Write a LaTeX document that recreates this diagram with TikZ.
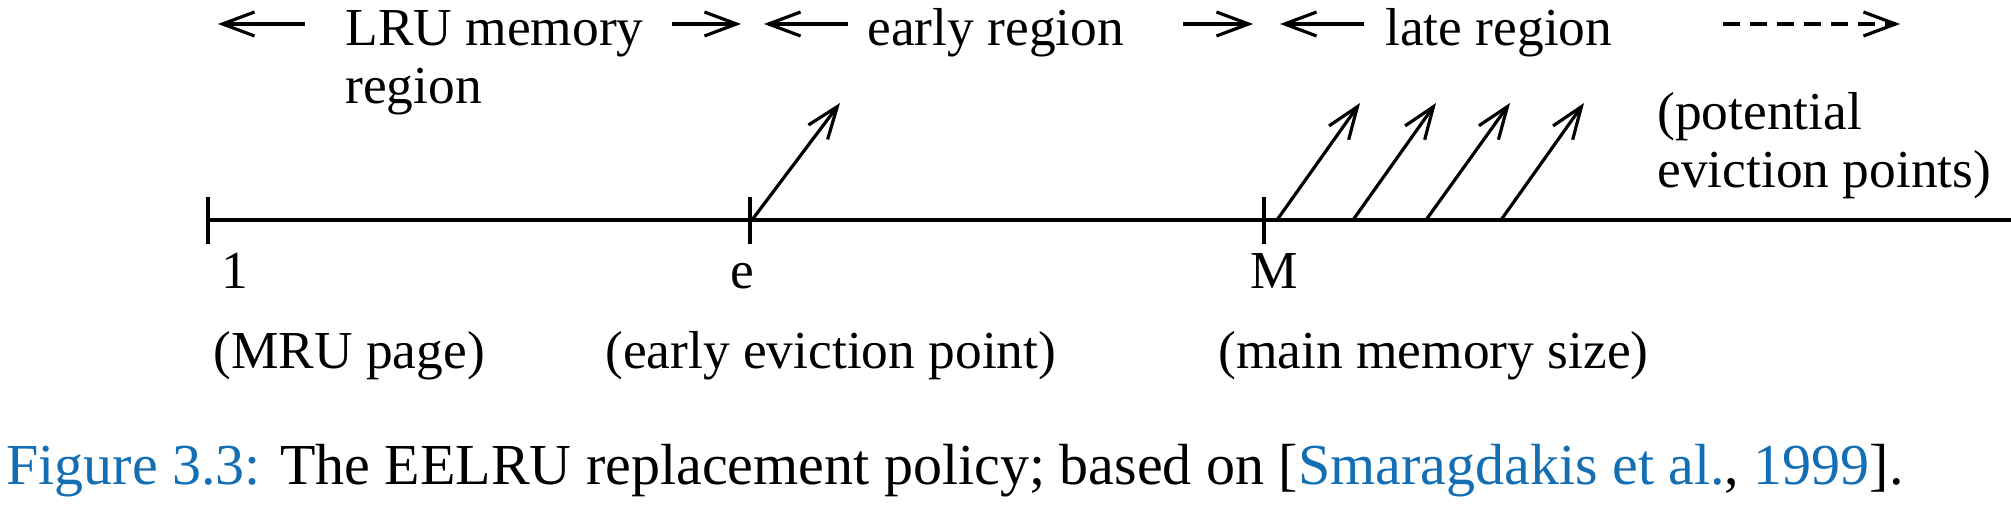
\documentclass[tikz,border=0pt]{standalone}
\usepackage{fontspec}
\setmainfont{Liberation Serif}
\usetikzlibrary{arrows.meta}
\definecolor{capblue}{RGB}{20,110,180}
\begin{document}
\begin{tikzpicture}[x=0.5pt,y=-0.5pt,
  lbl/.style={anchor=base west,inner sep=0pt,font=\fontsize{26.7pt}{29pt}\selectfont},
  axisline/.style={line width=1.9pt},
  regarrow/.style={line width=1.6pt,-{Straight Barb[length=16pt,width=12pt]}},
  ptrarrow/.style={line width=1.6pt,-{Straight Barb[length=16pt,width=12pt]}},
  capt/.style={anchor=base west,inner sep=0pt,font=\fontsize{29pt}{31pt}\selectfont}]
\useasboundingbox (0,0) rectangle (2011,512);

% main axis
\coordinate (A0) at (208,220);
\coordinate (A1) at (2011,220);
\draw[axisline] (A0) -- (A1);
% ticks
\coordinate (T1a) at (208,197); \coordinate (T1b) at (208,244);
\coordinate (T2a) at (750,197); \coordinate (T2b) at (750,244);
\coordinate (T3a) at (1264,197); \coordinate (T3b) at (1264,244);
\draw[axisline] (T1a) -- (T1b);
\draw[axisline] (T2a) -- (T2b);
\draw[axisline] (T3a) -- (T3b);

% eviction pointers
\coordinate (E0) at (752,220);  \coordinate (E1) at (840,103);
\coordinate (P0) at (1277,220); \coordinate (P1) at (1360,103);
\coordinate (Q0) at (1353,220); \coordinate (Q1) at (1436,103);
\coordinate (R0) at (1426,220); \coordinate (R1) at (1510,103);
\coordinate (S0) at (1501,220); \coordinate (S1) at (1584,103);
\draw[ptrarrow] (E0) -- (E1);
\draw[ptrarrow] (P0) -- (P1);
\draw[ptrarrow] (Q0) -- (Q1);
\draw[ptrarrow] (R0) -- (R1);
\draw[ptrarrow] (S0) -- (S1);

% region labels
\node[lbl] (lru1) at (345,46) {LRU memory};
\node[lbl] (lru2) at (345,104) {region};
\node[lbl] (early) at (867,46) {early region};
\node[lbl] (late) at (1385,46) {late region};
\node[lbl] (pot1) at (1657,130) {(potential};
\node[lbl] (pot2) at (1657,188) {eviction points)};

% region arrows
\coordinate (a1s) at (305,24);  \coordinate (a1e) at (218,24);
\coordinate (a2s) at (672,24);  \coordinate (a2e) at (741,24);
\coordinate (a3s) at (848,24);  \coordinate (a3e) at (764,24);
\coordinate (a4s) at (1183,24); \coordinate (a4e) at (1253,24);
\coordinate (a5s) at (1364,24); \coordinate (a5e) at (1280,24);
\coordinate (a6s) at (1723,24); \coordinate (a6e) at (1900,24);
\draw[regarrow] (a1s) -- (a1e);
\draw[regarrow] (a2s) -- (a2e);
\draw[regarrow] (a3s) -- (a3e);
\draw[regarrow] (a4s) -- (a4e);
\draw[regarrow] (a5s) -- (a5e);
\draw[regarrow,dash pattern=on 8.5pt off 5pt] (a6s) -- (a6e);

% axis labels
\node[lbl] (one) at (221,289) {1};
\node[lbl] (e) at (730,289) {e};
\node[lbl] (M) at (1250,289) {M};
\node[lbl] (mru) at (213,369) {(MRU page)};
\node[lbl] (eep) at (605,369) {(early eviction point)};
\node[lbl] (mms) at (1218,369) {(main memory size)};

% caption
\node[capt] (cap) at (6,485) {\textcolor{capblue}{Figure 3.3:} The EELRU replacement policy; based on [\textcolor{capblue}{Smaragdakis et al.}, \textcolor{capblue}{1999}].};
\end{tikzpicture}
\end{document}
